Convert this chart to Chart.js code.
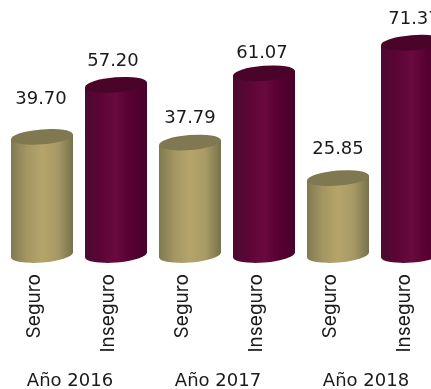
<!DOCTYPE html>
<html><head><meta charset="utf-8">
<style>html,body{margin:0;padding:0;background:#fff;overflow:hidden;width:431px;height:389px}canvas{display:block}</style>
<script src="https://cdn.jsdelivr.net/npm/chart.js@4"></script></head>
<body><canvas id="c" width="455" height="389"></canvas>
<script>
const categories=["Seguro","Inseguro","Seguro","Inseguro","Seguro","Inseguro"];
const years=["Año 2016","Año 2017","Año 2018"];
const values=[39.70,57.20,37.79,61.07,25.85,71.37];
const valueLabels=["39.70","57.20","37.79","61.07","25.85","71.37"];
const labelFont='"DejaVu Sans",sans-serif';
const tickFont='"Inter","DejaVu Sans",sans-serif';
const labelLift=[38,24,24,20,29,23];
const labelShift=[-1,-3,0,-2,0,2];
const gold=["#7f7a52","#a39662","#b5a56b","#a89a64","#77724c"];
const maroon=["#4a0a30","#5c0535","#680a3e","#560031","#4b002c"];
const TILT=-0.08, RY=7.5;
function paint(chart,x,w,stops){
  const g=chart.ctx.createLinearGradient(x-w/2,0,x+w/2,0);
  stops.forEach((s,i)=>g.addColorStop(i/(stops.length-1),s));
  return g;
}
const bodyFill=ctx=>ctx.dataIndex%2?maroon[2]:gold[2];
const cylinders={id:'cylinders',
  beforeDatasetsDraw(ch){
    const c=ch.ctx,meta=ch.getDatasetMeta(0),base=ch.scales.y.getPixelForValue(0);
    meta.data.forEach((b,i)=>{
      const w=b.width,d=Math.tan(-TILT)*w/2,L=b.x-w/2,R=b.x+w/2;
      const fill=paint(ch,b.x,w,i%2?maroon:gold);
      b.options.backgroundColor=fill;
      c.fillStyle=fill;
      c.beginPath();c.ellipse(b.x,base,w/2,RY,TILT,0,Math.PI*2);c.fill();
      c.beginPath();c.moveTo(L,base-12);c.lineTo(R,base-12);c.lineTo(R,base-d);c.lineTo(L,base+d);c.closePath();c.fill();
      c.beginPath();c.moveTo(L,b.y+d);c.lineTo(R,b.y-d);c.lineTo(R,b.y+12);c.lineTo(L,b.y+12);c.closePath();c.fill();
    });
    c.save();c.beginPath();
    meta.data.forEach(b=>{
      const w=b.width,d=Math.tan(-TILT)*w/2;
      c.moveTo(b.x-w/2,b.y+d);c.lineTo(b.x+w/2,b.y-d);
      c.lineTo(b.x+w/2,base-d);c.lineTo(b.x-w/2,base+d);c.closePath();
    });
    c.clip();
  },
  afterDatasetsDraw(ch){
    const c=ch.ctx,meta=ch.getDatasetMeta(0);
    c.restore();
    meta.data.forEach((b,i)=>{
      const w=b.width;
      c.fillStyle=i%2?"#4a0429":"#7f7850";
      c.beginPath();c.ellipse(b.x,b.y,w/2,RY,TILT,0,Math.PI*2);c.fill();
      c.fillStyle="#1a1a1a";c.font='18px '+labelFont;c.textAlign='center';c.textBaseline='middle';
      c.fillText(valueLabels[i],b.x+labelShift[i],b.y-labelLift[i]);
    });
  }};
new Chart(document.getElementById('c'),{
  type:'bar',
  data:{labels:categories,datasets:[{data:values,backgroundColor:bodyFill,borderWidth:0,inflateAmount:0,categoryPercentage:1,barPercentage:62/74}]},
  options:{responsive:false,animation:false,
    layout:{padding:{left:5,right:6,top:17,bottom:0}},
    plugins:{legend:{display:false},tooltip:{enabled:false}},
    scales:{
      y:{display:false,min:0,max:80},
      x:{position:'bottom',grid:{display:false,drawTicks:false},border:{display:false},
        afterFit(s){s.height=105;},
        ticks:{minRotation:90,maxRotation:90,autoSkip:false,padding:19,labelOffset:-8,color:"#1a1a1a",font:{family:tickFont,size:19}}},
      x2:{type:'category',labels:years,position:'bottom',grid:{display:false,drawTicks:false},border:{display:false},
        afterFit(s){s.height=29;},
        ticks:{maxRotation:0,minRotation:0,autoSkip:false,padding:11,labelOffset:-9,color:"#1a1a1a",font:{family:labelFont,size:18}}}
    }},
  plugins:[cylinders]
});
</script></body></html>
